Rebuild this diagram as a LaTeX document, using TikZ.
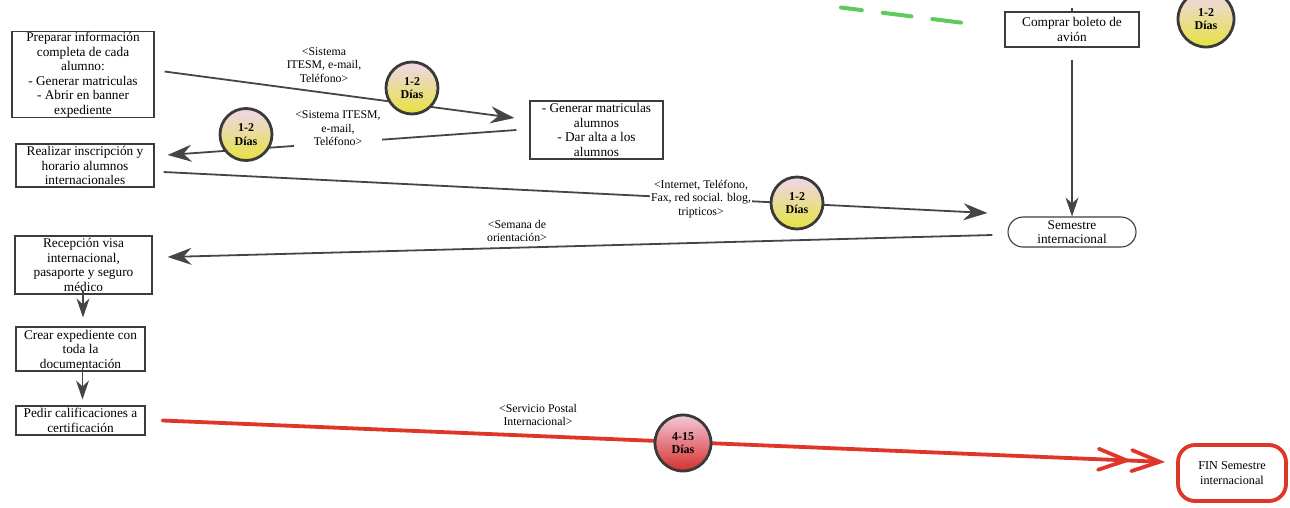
\documentclass[tikz,border=0pt]{standalone}
\usepackage{fontspec}
\setmainfont{Liberation Serif}
\usetikzlibrary{arrows.meta,calc}

\definecolor{edge}{HTML}{454545}
\definecolor{boxline}{HTML}{3C3C3C}
\definecolor{ring}{HTML}{3A3A3A}
\definecolor{redline}{HTML}{E0362A}
\definecolor{dashgreen}{HTML}{5CCB5C}
\definecolor{yelTop}{RGB}{238,214,236}
\definecolor{yelMid}{RGB}{240,236,172}
\definecolor{yelBot}{RGB}{230,226,64}
\definecolor{redTop}{RGB}{242,200,218}
\definecolor{redMid}{RGB}{232,118,128}
\definecolor{redBot}{RGB}{214,48,44}

\newcommand\boxfont{\fontsize{13.3}{14.5}\selectfont}
\newcommand\lblfont{\fontsize{11.8}{13.6}\selectfont}
\newcommand\dayfont{\bfseries\fontsize{12}{13.5}\selectfont}

\begin{document}
\begin{tikzpicture}[x=1pt,y=-1pt,
  box/.style={draw=boxline, line width=1.1pt, fill=white, align=center,
    inner sep=0pt, font=\boxfont},
  pill/.style={box, rounded corners=15pt},
  finbox/.style={draw=redline, line width=3.8pt, fill=white, align=center,
    inner sep=0pt, rounded corners=17pt, font=\fontsize{12.2}{15}\selectfont},
  days/.style={circle, draw=ring, line width=2.8pt, minimum size=52pt,
    inner sep=0pt, align=center, font=\dayfont,
    top color=yelTop, middle color=yelMid, bottom color=yelBot},
  reddays/.style={days, minimum size=56pt,
    top color=redTop, middle color=redMid, bottom color=redBot},
  lbl/.style={align=center, font=\lblfont, inner sep=1.5pt},
  arr/.style={draw=edge, line width=1.8pt,
    -{Stealth[length=24pt,width=17pt,inset=8pt]}},
  thinarr/.style={draw=edge, line width=1.1pt,
    -{Stealth[length=19pt,width=13pt,inset=6pt]}},
  redarr/.style={draw=redline, line width=3.8pt, line cap=round,
    -{Straight Barb[length=28pt,width=21pt,line cap=round,sep=-2pt]
      Straight Barb[length=28pt,width=21pt,line cap=round]}},
  greendash/.style={draw=dashgreen, line width=4pt, line cap=round,
    dash pattern=on 29pt off 21pt, dash phase=8pt}
]
\useasboundingbox (0,0) rectangle (1290,507);

% process boxes
\node[box, minimum width=142pt, minimum height=86pt] (prep) at (83,74.5)
  {Preparar información\\completa de cada\\alumno:\\- Generar matriculas\\- Abrir en banner\\expediente};
\node[box, minimum width=138pt, minimum height=43pt] (insc) at (85,165.5)
  {Realizar inscripción y\\horario alumnos\\internacionales};
\node[box, minimum width=133pt, minimum height=58pt] (alta) at (596.5,130)
  {- Generar matriculas\\alumnos\\- Dar alta a los\\alumnos};
\node[box, minimum width=134pt, minimum height=35pt] (boleto) at (1072,29.5)
  {Comprar boleto de\\avión};
\node[pill, minimum width=128pt, minimum height=30pt] (sem) at (1072,232)
  {Semestre\\internacional};
\node[box, minimum width=137pt, minimum height=58pt] (visa) at (83.5,265)
  {Recepción visa\\internacional,\\pasaporte y seguro\\médico};
\node[box, minimum width=129pt, minimum height=44pt] (exped) at (80.5,349)
  {Crear expediente con\\toda la\\documentación};
\node[box, minimum width=129pt, minimum height=29pt] (calif) at (80.5,420.5)
  {Pedir calificaciones a\\certificación};
\node[finbox, minimum width=108pt, minimum height=56pt] (fin) at (1232,473)
  {FIN Semestre\\internacional};

% free ends at the top edge
\coordinate (g1) at (841,7.5);
\coordinate (g2) at (964,23);
\coordinate (topin) at (1072,8);

% connectors
\draw[greendash] (g1) -- (g2);
\draw[draw=edge, line width=1.1pt] (topin) -- (boleto.north);
\draw[arr] ([xshift=10pt,yshift=3pt]prep.east) -- ([xshift=-15pt,yshift=12pt]alta.west);
\draw[arr] ([xshift=-13pt]alta.west) -- ([xshift=13pt,yshift=10.5pt]insc.east);
\draw[arr] ([xshift=9pt,yshift=-6.5pt]insc.east) -- ([xshift=-20pt,yshift=19pt]sem.west);
\draw[arr] ([xshift=-15pt,yshift=-3pt]sem.west) -- ([xshift=15pt,yshift=8pt]visa.east);
\draw[thinarr] ([yshift=-12pt]boleto.south) -- (sem.north);
\draw[thinarr] ($(visa.south)+(-0.5,-4)$) -- ($(exped.north -| visa.south)+(-0.5,-9)$);
\draw[thinarr] ($(exped.south -| visa.south)+(-1,-4)$) -- ($(calif.north -| visa.south)+(-1,-6)$);
\draw[redarr] ([xshift=17pt]calif.east) -- ([xshift=-11pt,yshift=11pt]fin.west);

% connector labels
\node[lbl] (l1) at (324,65) {<Sistema\\ITESM, e-mail,\\Teléfono>};
\node[lbl, fill=white] (l2) at (338,128.5) {<Sistema ITESM,\\e-mail,\\Teléfono>};
\node[lbl, fill=white] (l3) at (701,199) {<Internet, Teléfono,\\Fax, red social. blog,\\tripticos>};
\node[lbl] (l4) at (517,231) {<Semana de\\orientación>};
\node[lbl] (l5) at (538,415) {<Servicio Postal\\Internacional>};

% duration markers
\node[days] (d1) at (412,88) {1-2\\Días};
\node[days] (d2) at (246,134.5) {1-2\\Días};
\node[days] (d3) at (797,203) {1-2\\Días};
\node[days, minimum size=56pt] (d4) at (1206,19) {1-2\\Días};
\node[reddays] (d5) at (683,443) {4-15\\Días};
\end{tikzpicture}
\end{document}
